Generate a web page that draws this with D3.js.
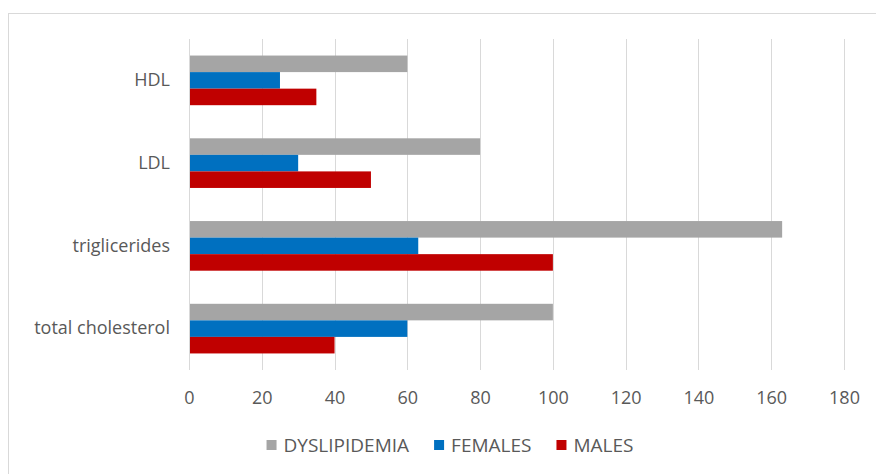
<!DOCTYPE html>
<html>
<head>
<meta charset="utf-8">
<script src="https://cdn.jsdelivr.net/npm/d3@7"></script>
<style>
  html, body { margin: 0; padding: 0; background: #fff; }
  svg { display: block; }
  text { font-family: "Open Sans", "Noto Sans", sans-serif; fill: #595959; }
</style>
</head>
<body>
<svg id="chart" width="876" height="474"></svg>
<script>
const categories = ["HDL", "LDL", "triglicerides", "total cholesterol"];
const seriesNames = ["DYSLIPIDEMIA", "FEMALES", "MALES"];
const dyslipidemia = [60, 80, 163, 100];
const females = [25, 30, 63, 60];
const males = [35, 50, 100, 40];
const xTicks = [0, 20, 40, 60, 80, 100, 120, 140, 160, 180];
const colors = ["#A5A5A5", "#0070C0", "#C00000"];

const seriesValues = [dyslipidemia, females, males];

const svg = d3.select("#chart");

// outer chart border
svg.append("rect")
  .attr("x", 8.5).attr("y", 13.5)
  .attr("width", 900).attr("height", 500)
  .attr("fill", "#fff").attr("stroke", "#d9d9d9").attr("stroke-width", 1);

const plotTop = 39, plotBottom = 370;
const x = d3.scaleLinear().domain([0, 180]).range([189, 844]);
const y = d3.scaleBand().domain(categories).range([plotTop, plotBottom])
  .paddingInner(0.4).paddingOuter(0.2);
const ySub = d3.scaleBand().domain(seriesNames).range([0, y.bandwidth()]).padding(0);

// gridlines
svg.append("g").selectAll("line").data(xTicks).join("line")
  .attr("x1", d => Math.round(x(d)) + 0.5).attr("x2", d => Math.round(x(d)) + 0.5)
  .attr("y1", plotTop).attr("y2", plotBottom)
  .attr("stroke", "#d9d9d9").attr("stroke-width", 1);

// bars
seriesNames.forEach((s, si) => {
  svg.append("g").selectAll("rect").data(categories).join("rect")
    .attr("x", x(0) + 1)
    .attr("y", c => y(c) + ySub(s))
    .attr("width", (c, i) => x(seriesValues[si][i]) - x(0) - 1)
    .attr("height", ySub.bandwidth())
    .attr("fill", colors[si]);
});

// x axis labels
const xAxis = d3.axisBottom(x).tickValues(xTicks).tickSize(0).tickPadding(0);
const gx = svg.append("g").attr("transform", `translate(0, ${plotBottom + 21})`).call(xAxis);
gx.select(".domain").remove();
gx.selectAll("text").style("font-size", "18px").style("fill", "#595959")
  .style("font-family", '"Open Sans", sans-serif');

// y axis labels
const yAxis = d3.axisLeft(y).tickSize(0).tickPadding(19);
const gy = svg.append("g").attr("transform", `translate(${x(0)}, 0)`).call(yAxis);
gy.select(".domain").remove();
gy.selectAll("text").style("font-size", "18px").style("fill", "#595959")
  .style("font-family", '"Open Sans", sans-serif');

// legend
const legend = svg.append("g");
const items = legend.selectAll("g").data(seriesNames).join("g");
items.append("rect").attr("width", 10).attr("height", 10).attr("y", -5)
  .attr("fill", (d, i) => colors[i]);
items.append("text").attr("x", 17).attr("dy", "0.35em")
  .style("font-size", "19px").text(d => d);
const widths = [];
items.each(function() {
  const w = d3.select(this).select("text").node().getComputedTextLength() + 17;
  widths.push(w);
});
const gap = 25;
const total = d3.sum(widths) + gap * (widths.length - 1);
let start = 450 - total / 2;
items.attr("transform", (d, i) => {
  const tx = start;
  start += widths[i] + gap;
  return `translate(${tx}, 445)`;
});
</script>
</body>
</html>
